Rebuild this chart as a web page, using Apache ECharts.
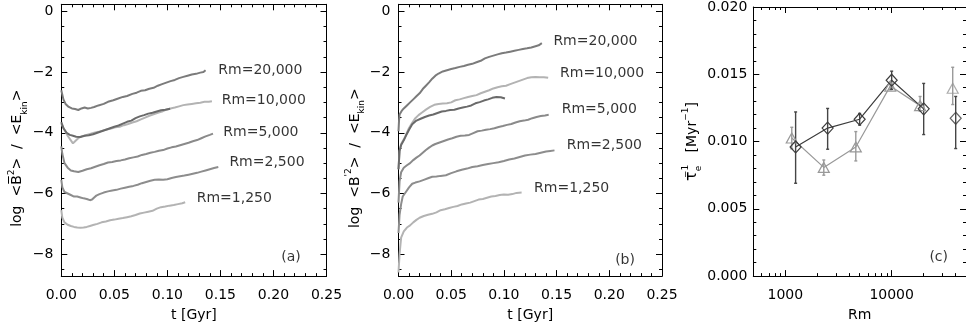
<!DOCTYPE html>
<html>
<head>
<meta charset="utf-8">
<script src="https://cdn.jsdelivr.net/npm/echarts@6/dist/echarts.min.js"></script>
<style>
  html, body { margin: 0; padding: 0; background: #fff; }
  #chart { width: 966px; height: 328px; }
</style>
</head>
<body>
<div id="chart"></div>
<script>
// ---- panel (a): log <Bbar^2>/<Ekin> vs t [Gyr] ----
const a20000 = [[0,-2.6],[0.002,-2.9],[0.004,-3.05],[0.007,-3.15],[0.010,-3.2],[0.013,-3.22],[0.016,-3.25],[0.019,-3.2],[0.022,-3.17],[0.025,-3.2],[0.028,-3.18],[0.031,-3.15],[0.035,-3.1],[0.040,-3.05],[0.044,-2.98],[0.049,-2.93],[0.053,-2.88],[0.058,-2.82],[0.062,-2.79],[0.067,-2.72],[0.071,-2.68],[0.075,-2.62],[0.079,-2.6],[0.083,-2.55],[0.087,-2.52],[0.091,-2.45],[0.095,-2.4],[0.099,-2.35],[0.103,-2.3],[0.107,-2.26],[0.111,-2.2],[0.115,-2.16],[0.119,-2.12],[0.123,-2.08],[0.127,-2.06],[0.131,-2.02],[0.134,-2.0],[0.136,-1.94]];
const a10000 = [[0,-3.7],[0.003,-3.9],[0.006,-4.1],[0.009,-4.25],[0.011,-4.35],[0.013,-4.28],[0.016,-4.18],[0.019,-4.12],[0.023,-4.08],[0.027,-4.04],[0.031,-4.0],[0.035,-3.97],[0.039,-3.93],[0.043,-3.89],[0.047,-3.86],[0.051,-3.82],[0.055,-3.8],[0.059,-3.75],[0.063,-3.71],[0.067,-3.66],[0.071,-3.62],[0.075,-3.56],[0.079,-3.5],[0.083,-3.44],[0.087,-3.39],[0.091,-3.34],[0.095,-3.3],[0.099,-3.24],[0.103,-3.2],[0.107,-3.17],[0.111,-3.13],[0.115,-3.09],[0.119,-3.07],[0.123,-3.05],[0.127,-3.03],[0.131,-3.01],[0.135,-2.98],[0.139,-2.98],[0.142,-2.96]];
const aExtra = [[0,-3.65],[0.002,-3.85],[0.005,-4.0],[0.008,-4.07],[0.011,-4.1],[0.014,-4.13],[0.018,-4.14],[0.022,-4.1],[0.026,-4.08],[0.030,-4.05],[0.034,-4.0],[0.038,-3.95],[0.042,-3.9],[0.046,-3.85],[0.050,-3.8],[0.054,-3.76],[0.058,-3.7],[0.062,-3.64],[0.066,-3.6],[0.070,-3.52],[0.074,-3.46],[0.078,-3.42],[0.082,-3.37],[0.086,-3.34],[0.090,-3.3],[0.094,-3.26],[0.098,-3.24],[0.1026,-3.21]];
const a5000 = [[0,-4.45],[0.001,-4.7],[0.003,-5.0],[0.006,-5.15],[0.009,-5.24],[0.012,-5.27],[0.016,-5.29],[0.020,-5.25],[0.024,-5.2],[0.028,-5.17],[0.032,-5.12],[0.036,-5.07],[0.040,-5.03],[0.044,-4.98],[0.048,-4.96],[0.052,-4.93],[0.056,-4.91],[0.060,-4.88],[0.064,-4.84],[0.068,-4.81],[0.072,-4.78],[0.076,-4.73],[0.080,-4.7],[0.084,-4.66],[0.088,-4.63],[0.092,-4.59],[0.096,-4.57],[0.100,-4.52],[0.104,-4.48],[0.108,-4.45],[0.112,-4.41],[0.116,-4.37],[0.120,-4.33],[0.124,-4.28],[0.128,-4.24],[0.132,-4.18],[0.136,-4.12],[0.140,-4.07],[0.143,-4.03]];
const a2500 = [[0,-5.55],[0.001,-5.8],[0.003,-5.95],[0.006,-6.0],[0.009,-6.05],[0.012,-6.1],[0.015,-6.1],[0.018,-6.13],[0.021,-6.16],[0.024,-6.18],[0.027,-6.22],[0.029,-6.2],[0.031,-6.13],[0.033,-6.07],[0.036,-6.02],[0.040,-5.97],[0.044,-5.93],[0.048,-5.9],[0.052,-5.88],[0.056,-5.84],[0.060,-5.81],[0.064,-5.78],[0.068,-5.75],[0.072,-5.71],[0.076,-5.66],[0.080,-5.62],[0.084,-5.58],[0.088,-5.55],[0.092,-5.54],[0.096,-5.55],[0.100,-5.53],[0.104,-5.49],[0.108,-5.46],[0.112,-5.43],[0.116,-5.41],[0.120,-5.38],[0.124,-5.35],[0.128,-5.32],[0.132,-5.28],[0.136,-5.24],[0.140,-5.2],[0.144,-5.16],[0.148,-5.13]];
const a1250 = [[0,-6.55],[0.001,-6.8],[0.003,-6.95],[0.006,-7.03],[0.009,-7.07],[0.012,-7.1],[0.015,-7.12],[0.018,-7.13],[0.021,-7.12],[0.024,-7.1],[0.027,-7.07],[0.030,-7.04],[0.034,-7.0],[0.038,-6.95],[0.042,-6.92],[0.046,-6.88],[0.050,-6.86],[0.054,-6.83],[0.058,-6.81],[0.062,-6.78],[0.066,-6.75],[0.070,-6.71],[0.074,-6.66],[0.078,-6.63],[0.082,-6.6],[0.086,-6.57],[0.090,-6.5],[0.094,-6.45],[0.098,-6.43],[0.102,-6.4],[0.106,-6.38],[0.110,-6.35],[0.114,-6.32],[0.1168,-6.29]];

// ---- panel (b): log <B'^2>/<Ekin> vs t [Gyr] ----
const b20000 = [[0,-3.95],[0.0005,-3.6],[0.001,-3.4],[0.003,-3.28],[0.005,-3.2],[0.008,-3.1],[0.011,-3.0],[0.014,-2.9],[0.017,-2.8],[0.020,-2.7],[0.023,-2.56],[0.026,-2.45],[0.029,-2.34],[0.032,-2.22],[0.035,-2.12],[0.038,-2.05],[0.042,-1.98],[0.046,-1.94],[0.050,-1.9],[0.054,-1.87],[0.058,-1.83],[0.062,-1.8],[0.066,-1.76],[0.070,-1.73],[0.074,-1.68],[0.078,-1.63],[0.082,-1.55],[0.086,-1.5],[0.090,-1.46],[0.094,-1.42],[0.098,-1.38],[0.102,-1.36],[0.106,-1.33],[0.110,-1.3],[0.114,-1.27],[0.118,-1.24],[0.122,-1.22],[0.126,-1.19],[0.130,-1.15],[0.133,-1.12],[0.136,-1.05]];
const b10000 = [[0,-5.2],[0.001,-4.6],[0.0025,-4.37],[0.006,-4.16],[0.008,-4.0],[0.010,-3.84],[0.013,-3.67],[0.016,-3.52],[0.019,-3.42],[0.022,-3.34],[0.026,-3.24],[0.030,-3.15],[0.034,-3.08],[0.038,-3.05],[0.042,-3.04],[0.046,-3.03],[0.050,-3.0],[0.054,-2.93],[0.058,-2.9],[0.062,-2.86],[0.066,-2.82],[0.070,-2.79],[0.074,-2.76],[0.078,-2.7],[0.082,-2.65],[0.086,-2.6],[0.090,-2.54],[0.094,-2.5],[0.098,-2.47],[0.102,-2.45],[0.106,-2.4],[0.110,-2.35],[0.114,-2.3],[0.118,-2.25],[0.122,-2.2],[0.126,-2.17],[0.130,-2.16],[0.134,-2.17],[0.138,-2.17],[0.142,-2.19]];
const bExtra = [[0,-5.2],[0.001,-4.6],[0.0025,-4.4],[0.005,-4.25],[0.007,-4.1],[0.010,-3.9],[0.013,-3.72],[0.017,-3.6],[0.021,-3.54],[0.025,-3.48],[0.029,-3.43],[0.033,-3.4],[0.037,-3.35],[0.041,-3.3],[0.045,-3.28],[0.049,-3.25],[0.053,-3.24],[0.057,-3.2],[0.061,-3.17],[0.065,-3.14],[0.069,-3.1],[0.073,-3.03],[0.077,-2.99],[0.081,-2.94],[0.085,-2.9],[0.089,-2.85],[0.093,-2.82],[0.097,-2.83],[0.101,-2.87]];
const b5000 = [[0,-6.3],[0.001,-5.6],[0.0025,-5.3],[0.005,-5.15],[0.008,-5.07],[0.011,-5.0],[0.014,-4.9],[0.017,-4.82],[0.020,-4.75],[0.023,-4.66],[0.026,-4.57],[0.029,-4.49],[0.032,-4.42],[0.035,-4.37],[0.039,-4.32],[0.043,-4.27],[0.047,-4.22],[0.051,-4.18],[0.055,-4.13],[0.059,-4.1],[0.063,-4.09],[0.067,-4.07],[0.071,-4.01],[0.075,-3.95],[0.079,-3.93],[0.083,-3.9],[0.087,-3.88],[0.091,-3.85],[0.095,-3.81],[0.099,-3.78],[0.103,-3.74],[0.107,-3.71],[0.111,-3.66],[0.115,-3.62],[0.119,-3.6],[0.123,-3.57],[0.127,-3.52],[0.131,-3.48],[0.135,-3.45],[0.139,-3.43],[0.1425,-3.41]];
const b2500 = [[0,-7.3],[0.001,-6.7],[0.0025,-6.35],[0.004,-6.1],[0.007,-5.95],[0.010,-5.8],[0.013,-5.68],[0.016,-5.64],[0.020,-5.6],[0.024,-5.55],[0.028,-5.5],[0.032,-5.45],[0.036,-5.44],[0.040,-5.42],[0.045,-5.4],[0.050,-5.33],[0.055,-5.27],[0.060,-5.22],[0.065,-5.18],[0.070,-5.13],[0.075,-5.1],[0.080,-5.06],[0.085,-5.03],[0.090,-5.0],[0.095,-4.97],[0.100,-4.93],[0.105,-4.88],[0.110,-4.85],[0.115,-4.8],[0.120,-4.75],[0.125,-4.72],[0.130,-4.7],[0.135,-4.66],[0.140,-4.62],[0.144,-4.6],[0.148,-4.58]];
const b1250 = [[0,-8.6],[0.001,-8.0],[0.0025,-7.45],[0.005,-7.25],[0.008,-7.12],[0.011,-7.05],[0.014,-6.95],[0.017,-6.87],[0.020,-6.8],[0.024,-6.74],[0.028,-6.7],[0.032,-6.67],[0.036,-6.62],[0.040,-6.55],[0.044,-6.52],[0.048,-6.48],[0.052,-6.44],[0.056,-6.41],[0.060,-6.36],[0.064,-6.33],[0.068,-6.3],[0.072,-6.25],[0.076,-6.2],[0.080,-6.18],[0.084,-6.14],[0.088,-6.1],[0.092,-6.08],[0.096,-6.05],[0.100,-6.03],[0.104,-6.04],[0.108,-6.02],[0.112,-5.98],[0.1168,-5.97]];

// curve labels: [t, value, text]
const labelsA = [[0.148,-1.93,'Rm=20,000'],[0.1512,-2.92,'Rm=10,000'],[0.1527,-4.0,'Rm=5,000'],[0.1584,-4.99,'Rm=2,500'],[0.1276,-6.16,'Rm=1,250']];
const labelsB = [[0.1469,-0.98,'Rm=20,000'],[0.1532,-2.05,'Rm=10,000'],[0.1548,-3.24,'Rm=5,000'],[0.1596,-4.43,'Rm=2,500'],[0.1286,-5.83,'Rm=1,250']];
const panelTags = [[0.2258,-8.1,'(a)'],[0.2244,-8.2,'(b)']];
const panelTagC = [[33900,0.00138,'(c)']];

// ---- panel (c): tau_e^-1 vs Rm ----
const rmDiamond = [1250, 2500, 5000, 10000, 20000, 40000];
const tauDiamond = [0.0096, 0.0110, 0.01166, 0.01456, 0.01243, 0.01173];
const loDiamond = [0.0069, 0.00943, 0.01122, 0.01388, 0.01052, 0.00948];
const hiDiamond = [0.0122, 0.01246, 0.01209, 0.01523, 0.01432, 0.01335];
const rmTriangle = [1150, 2300, 4600, 9700, 18500, 37500];
const tauTriangle = [0.01026, 0.00808, 0.0096, 0.01412, 0.01267, 0.01396];
const loTriangle = [0.00946, 0.0075, 0.00856, 0.01385, 0.01226, 0.01275];
const hiTriangle = [0.01106, 0.00863, 0.01074, 0.0144, 0.01335, 0.01552];

const rmMajorTicks = [1000, 10000];
const rmMinorTicks = [600, 700, 800, 900, 2000, 3000, 4000, 5000, 6000, 7000, 8000, 9000, 20000, 30000, 40000];

const FONT = 'DejaVu Sans';
const txt = { fontFamily: FONT, fontSize: 14, color: '#000' };
const supStyle = { fontFamily: FONT, fontSize: 9, lineHeight: 9, verticalAlign: 'top', color: '#000' };
const subStyle = { fontFamily: FONT, fontSize: 9, lineHeight: 9, verticalAlign: 'bottom', color: '#000' };
const minus = s => String(s).replace('-', '\u2212');

function timeAxis(grid, position, show) {
  return {
    type: 'value', gridIndex: grid, position: position, min: 0, max: 0.25, interval: 0.05,
    axisLine: { onZero: false, lineStyle: { color: '#000', width: 1 } },
    axisTick: { inside: true, length: 6, lineStyle: { color: '#000' } },
    minorTick: { show: true, splitNumber: 5, length: 3, lineStyle: { color: '#000' } },
    splitLine: { show: false },
    axisLabel: Object.assign({ show: show, margin: 12, formatter: v => v.toFixed(2) }, txt),
    name: show ? 't [Gyr]' : '', nameLocation: 'middle', nameGap: 28,
    nameTextStyle: Object.assign({ lineHeight: 16 }, txt)
  };
}

function ratioAxis(grid, position, show, name) {
  return {
    type: 'value', gridIndex: grid, position: position, min: -8.72, max: 0.23,
    minInterval: 2, maxInterval: 2,
    axisLine: { onZero: false, lineStyle: { color: '#000', width: 1 } },
    axisTick: { inside: true, length: 6, lineStyle: { color: '#000' } },
    minorTick: { show: true, splitNumber: 4, length: 3, lineStyle: { color: '#000' } },
    splitLine: { show: false },
    axisLabel: Object.assign({ show: show, margin: 8, showMinLabel: false, showMaxLabel: false,
      formatter: v => Number.isInteger(v) ? minus(v) : '' }, txt),
    name: show ? name : '', nameLocation: 'middle', nameRotate: 90, nameGap: 30,
    nameTextStyle: Object.assign({ lineHeight: 22, padding: [0, 36, 0, 0],
      rich: { sup: supStyle, sub: subStyle } }, txt)
  };
}

function rmAxis(position, ticks, major, show) {
  return {
    type: 'log', logBase: 10, gridIndex: 2, position: position, min: 500, max: 50000,
    axisLine: { show: major, onZero: false, lineStyle: { color: '#000', width: 1 } },
    axisTick: { inside: true, length: major ? 6 : 3, customValues: ticks, lineStyle: { color: '#000' } },
    minorTick: { show: false },
    splitLine: { show: false },
    axisLabel: Object.assign({ show: show, margin: 12, customValues: ticks,
      formatter: v => String(Math.round(v)) }, txt),
    name: show ? 'Rm' : '', nameLocation: 'middle', nameGap: 28,
    nameTextStyle: Object.assign({ lineHeight: 16 }, txt)
  };
}

function tauAxis(position, show) {
  return {
    type: 'value', gridIndex: 2, position: position, min: 0, max: 0.02, interval: 0.005,
    axisLine: { onZero: false, lineStyle: { color: '#000', width: 1 } },
    axisTick: { inside: true, length: 6, lineStyle: { color: '#000' } },
    minorTick: { show: true, splitNumber: 5, length: 3, lineStyle: { color: '#000' } },
    splitLine: { show: false },
    axisLabel: Object.assign({ show: show, margin: 6, formatter: v => v.toFixed(3) }, txt),
    name: show ? '{tau|\u03c4}{sup0|\u22121}{sub|e}   [Myr{sup|\u22121}]' : '',
    nameLocation: 'middle', nameRotate: 90, nameGap: 49,
    nameTextStyle: Object.assign({ lineHeight: 22, rich: {
      tau: { fontFamily: FONT, fontSize: 16, lineHeight: 22, color: '#000' },
      sup0: Object.assign({ width: 0, align: 'left' }, supStyle),
      sup: supStyle, sub: subStyle } }, txt)
  };
}

function curve(data, color, xi, yi) {
  return { type: 'line', data: data, xAxisIndex: xi, yAxisIndex: yi, showSymbol: false,
    symbol: 'none', lineStyle: { color: color, width: 2 }, silent: true, z: 3 };
}

function textMarks(data, xi, yi, pos) {
  return { type: 'scatter', data: data, xAxisIndex: xi, yAxisIndex: yi, symbolSize: 0.1,
    itemStyle: { color: 'transparent' }, silent: true, z: 5,
    label: Object.assign({ show: true, position: pos, distance: 0,
      formatter: p => p.data[2] }, txt) };
}

function errorBars(rm, lo, hi, color) {
  return {
    type: 'custom', xAxisIndex: 4, yAxisIndex: 4, silent: true, z: 2,
    data: rm.map((r, i) => [r, lo[i], hi[i]]),
    encode: { x: 0, y: [1, 2] },
    renderItem: (params, api) => {
      const top = api.coord([api.value(0), api.value(2)]);
      const bot = api.coord([api.value(0), api.value(1)]);
      const st = { stroke: color, lineWidth: 1.4 };
      return { type: 'group', children: [
        { type: 'line', shape: { x1: top[0], y1: top[1], x2: bot[0], y2: bot[1] }, style: st },
        { type: 'line', shape: { x1: top[0] - 1.5, y1: top[1], x2: top[0] + 1.5, y2: top[1] }, style: st },
        { type: 'line', shape: { x1: bot[0] - 1.5, y1: bot[1], x2: bot[0] + 1.5, y2: bot[1] }, style: st }
      ] };
    }
  };
}

function markerSeries(type, rm, tau, symbol, size, color) {
  return {
    type: type, xAxisIndex: 4, yAxisIndex: 4, silent: true, z: 4,
    data: rm.map((r, i) => [r, tau[i]]),
    symbol: symbol, symbolSize: size, showSymbol: true,
    itemStyle: { color: 'rgba(0,0,0,0)', borderColor: color, borderWidth: 1.2 },
    lineStyle: { color: color, width: 1.2 }
  };
}

const chart = echarts.init(document.getElementById('chart'), null, { renderer: 'canvas' });
chart.setOption({
  animation: false,
  backgroundColor: '#fff',
  grid: [
    { left: 61.3, top: 4.3, width: 265.2, height: 276.4 },
    { left: 398.5, top: 4.3, width: 263.5, height: 276.4 },
    { left: 753.3, top: 4.5, width: 220.3, height: 276.2 }
  ],
  xAxis: [
    timeAxis(0, 'bottom', true), timeAxis(0, 'top', false),
    timeAxis(1, 'bottom', true), timeAxis(1, 'top', false),
    rmAxis('bottom', rmMajorTicks, true, true), rmAxis('top', rmMajorTicks, true, false),
    rmAxis('bottom', rmMinorTicks, false, false), rmAxis('top', rmMinorTicks, false, false)
  ],
  yAxis: [
    ratioAxis(0, 'left', true, 'log  <B\u0305{sup|2}>  /  <E{sub|kin}>'), ratioAxis(0, 'right', false, ''),
    ratioAxis(1, 'left', true, "log  <B{sup|'2}>  /  <E{sub|kin}>"), ratioAxis(1, 'right', false, ''),
    tauAxis('left', true), tauAxis('right', false)
  ],
  series: [
    curve(a20000, '#7b7b7b', 0, 0),
    curve(a10000, '#b3b3b3', 0, 0),
    curve(aExtra, '#6a6a6a', 0, 0),
    curve(a5000, '#8a8a8a', 0, 0),
    curve(a2500, '#8d8d8d', 0, 0),
    curve(a1250, '#b3b3b3', 0, 0),
    curve(b20000, '#7b7b7b', 2, 2),
    curve(b10000, '#b3b3b3', 2, 2),
    curve(bExtra, '#6a6a6a', 2, 2),
    curve(b5000, '#8a8a8a', 2, 2),
    curve(b2500, '#8d8d8d', 2, 2),
    curve(b1250, '#b3b3b3', 2, 2),
    textMarks(labelsA, 0, 0, 'right'),
    textMarks(labelsB, 2, 2, 'right'),
    textMarks(panelTags.slice(0, 1), 0, 0, 'left'),
    textMarks(panelTags.slice(1), 2, 2, 'left'),
    textMarks(panelTagC, 4, 4, 'left'),
    errorBars(rmTriangle, loTriangle, hiTriangle, '#9a9a9a'),
    errorBars(rmDiamond, loDiamond, hiDiamond, '#454545'),
    markerSeries('line', rmTriangle.slice(0, 5), tauTriangle.slice(0, 5), 'triangle', [11, 10], '#999999'),
    markerSeries('scatter', rmTriangle.slice(5), tauTriangle.slice(5), 'triangle', [11, 10], '#999999'),
    markerSeries('line', rmDiamond.slice(0, 5), tauDiamond.slice(0, 5), 'diamond', [11, 12], '#3c3c3c'),
    markerSeries('scatter', rmDiamond.slice(5), tauDiamond.slice(5), 'diamond', [11, 12], '#3c3c3c')
  ]
});
</script>
</body>
</html>
